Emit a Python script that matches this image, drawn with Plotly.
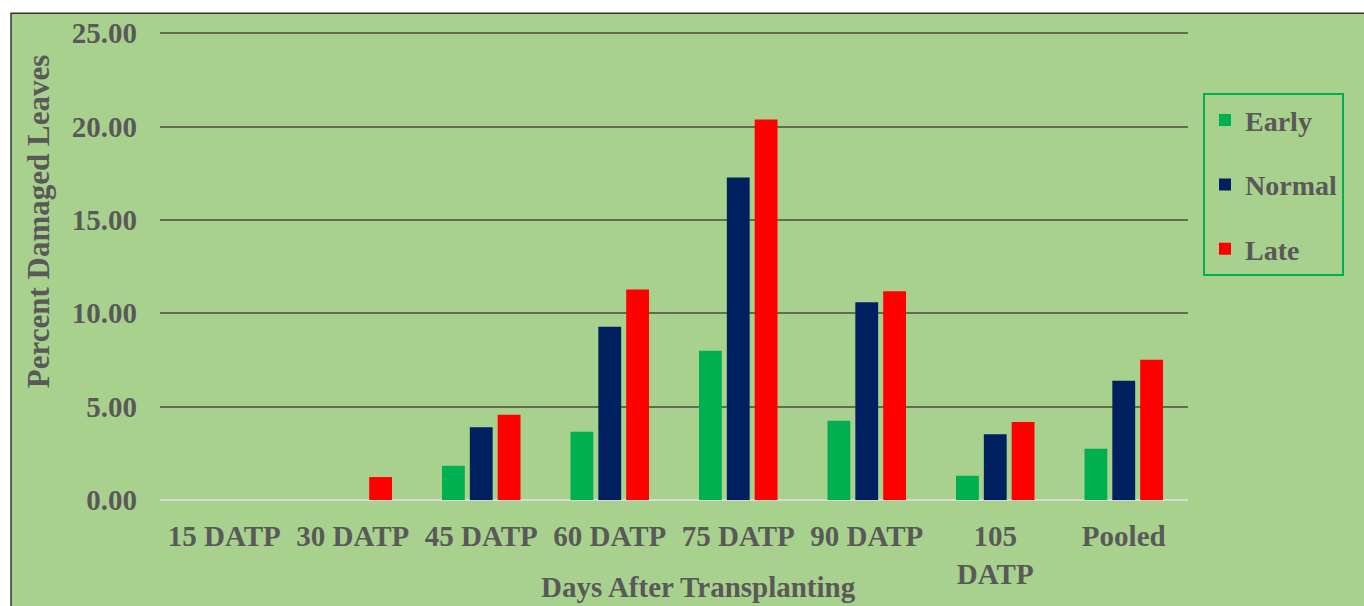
import plotly.graph_objects as go

# Percent damaged leaves by sampling date and transplanting time
categories = ["15 DATP", "30 DATP", "45 DATP", "60 DATP", "75 DATP",
              "90 DATP", "105 DATP", "Pooled"]
tick_labels = ["15 DATP", "30 DATP", "45 DATP", "60 DATP", "75 DATP",
               "90 DATP", "105<br>DATP", "Pooled"]
early = [0.00, 0.00, 1.83, 3.66, 8.00, 4.25, 1.30, 2.74]
normal = [0.00, 0.00, 3.90, 9.28, 17.28, 10.59, 3.52, 6.39]
late = [0.00, 1.23, 4.57, 11.28, 20.39, 11.18, 4.18, 7.52]
y_ticks = [0, 5, 10, 15, 20, 25]

series = [
    ("Early", early, "#00B050"),
    ("Normal", normal, "#002060"),
    ("Late", late, "#FF0000"),
]

FONT = "Liberation Serif"
TEXT = "#595959"

# y range extends a little past the top tick so its gridline is drawn
Y_MAX = 25.5
PX_PER_UNIT = 467 / 25
TOP = 500 - Y_MAX * PX_PER_UNIT
PLOT_H = 500 - TOP

fig = go.Figure()
for name, vals, color in series:
    fig.add_trace(go.Bar(
        name=name, x=categories, y=vals,
        marker=dict(color=color, line=dict(width=0)),
        legendgroup=name,
    ))


def py(pixel_y):
    """Pixel row -> paper y coordinate."""
    return (500 - pixel_y) / PLOT_H


def px(pixel_x):
    """Pixel column -> paper x coordinate."""
    return (pixel_x - 160) / 1028


fig.update_layout(
    width=1364, height=606,
    margin=dict(l=160, r=176, t=TOP, b=106, autoexpand=False),
    paper_bgcolor="white",
    plot_bgcolor="rgba(0,0,0,0)",
    barmode="group",
    bargap=0.35,
    bargroupgap=0.18,
    font=dict(family=FONT, color=TEXT, size=28),
    showlegend=True,
    legend=dict(
        x=px(1203), y=py(93), xanchor="left", yanchor="top",
        bgcolor="rgba(0,0,0,0)",
        bordercolor="#00B050", borderwidth=2,
        font=dict(family=FONT, size=28, color=TEXT, weight="bold"),
        traceorder="grouped", tracegroupgap=25,
        itemwidth=30,
    ),
    xaxis=dict(
        tickmode="array", tickvals=categories, ticktext=tick_labels,
        tickfont=dict(family=FONT, size=29, color=TEXT, weight="bold"),
        ticks="", showgrid=False, showline=False, zeroline=False,
        ticklabelstandoff=16, automargin=False,
    ),
    yaxis=dict(
        range=[0, Y_MAX], tickmode="array", tickvals=y_ticks,
        ticktext=[f"{v:.2f}" for v in y_ticks],
        tickfont=dict(family=FONT, size=29, color=TEXT, weight="bold"),
        showgrid=True, gridcolor="#5E6E50", gridwidth=2,
        zeroline=True, zerolinecolor="#D9D9D9", zerolinewidth=2,
        showline=False, ticks="",
        ticklabelstandoff=22, automargin=False,
    ),
    annotations=[
        dict(text="<b>Percent Damaged Leaves</b>", textangle=-90,
             xref="paper", yref="paper", x=px(38), y=py(222),
             xanchor="center", yanchor="middle", showarrow=False,
             font=dict(family=FONT, size=31, color=TEXT)),
        dict(text="<b>Days After Transplanting</b>",
             xref="paper", yref="paper", x=px(698), y=py(587),
             xanchor="center", yanchor="middle", showarrow=False,
             font=dict(family=FONT, size=29, color=TEXT)),
    ],
    shapes=[dict(
        type="rect", xref="paper", yref="paper",
        x0=px(11), x1=px(1372), y0=py(612), y1=py(13),
        fillcolor="#A9D18E", line=dict(color="#333333", width=1.5),
        layer="below",
    )],
)

fig.write_html("out.html")
